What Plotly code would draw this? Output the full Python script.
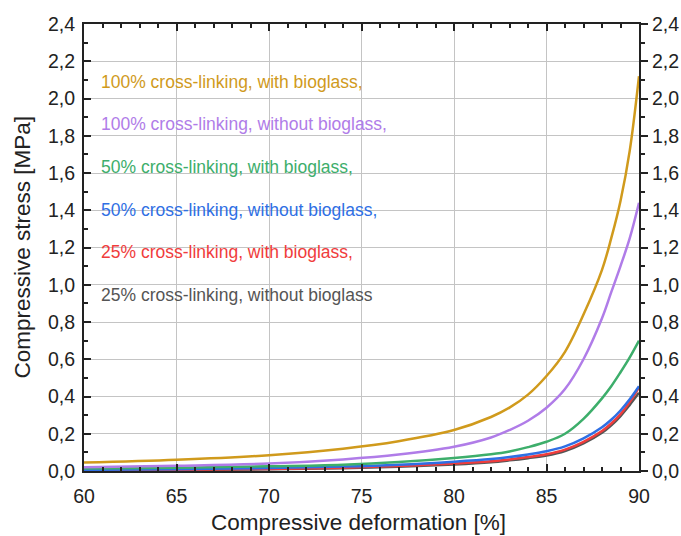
import plotly.graph_objects as go

deformation = [60, 65, 70, 74, 77, 80, 82, 83, 84, 85, 86, 87, 88, 88.5, 89, 89.5, 90]

stress_100_with = [0.045, 0.06, 0.085, 0.12, 0.16, 0.22, 0.29, 0.34, 0.41, 0.51, 0.64, 0.84, 1.08, 1.25, 1.45, 1.72, 2.12]
stress_100_without = [0.02, 0.028, 0.04, 0.062, 0.088, 0.13, 0.18, 0.22, 0.27, 0.34, 0.44, 0.60, 0.82, 0.96, 1.10, 1.25, 1.44]
stress_50_with = [0.013, 0.018, 0.025, 0.034, 0.048, 0.07, 0.09, 0.105, 0.128, 0.157, 0.20, 0.28, 0.39, 0.455, 0.53, 0.61, 0.70]
stress_50_without = [0.006, 0.01, 0.016, 0.024, 0.034, 0.05, 0.064, 0.075, 0.089, 0.106, 0.132, 0.175, 0.235, 0.275, 0.325, 0.385, 0.455]
stress_25_with = [0.004, 0.007, 0.011, 0.018, 0.027, 0.04, 0.052, 0.062, 0.075, 0.09, 0.115, 0.157, 0.215, 0.255, 0.305, 0.37, 0.45]
stress_25_without = [0.002, 0.005, 0.009, 0.015, 0.023, 0.035, 0.047, 0.057, 0.069, 0.083, 0.107, 0.148, 0.205, 0.245, 0.295, 0.355, 0.42]

labels = [
    "100% cross-linking, with bioglass,",
    "100% cross-linking, without bioglass,",
    "50% cross-linking, with bioglass,",
    "50% cross-linking, without bioglass,",
    "25% cross-linking, with bioglass,",
    "25% cross-linking, without bioglass",
]
label_y = [2.087, 1.863, 1.631, 1.401, 1.174, 0.945]

series = [stress_100_with, stress_100_without, stress_50_with,
          stress_50_without, stress_25_with, stress_25_without]
colors = ["#D09A1C", "#B07CE8", "#3DAE6B", "#2F6FE4", "#F03C3C", "#555555"]

fig = go.Figure()
for i in reversed(range(len(series))):
    fig.add_trace(go.Scatter(x=deformation, y=series[i], mode="lines",
                             line=dict(color=colors[i], width=2.5, shape="spline", smoothing=1.0),
                             name=labels[i], showlegend=False))

fig.add_trace(go.Scatter(x=[60], y=[0], yaxis="y2", mode="markers",
                         marker=dict(opacity=0), showlegend=False, hoverinfo="skip"))

for lab, ly, c in zip(labels, label_y, colors):
    fig.add_annotation(x=60.8, y=ly, text=lab, showarrow=False, xanchor="left",
                       yanchor="middle", font=dict(color=c, size=17.5, family="Arial"))

fig.add_annotation(x=-0.1117, y=0.5, xref="paper", yref="paper", text="Compressive stress [MPa]",
                   textangle=-90, showarrow=False, xanchor="center", yanchor="middle",
                   font=dict(size=22.5, family="Arial", color="#222"))
fig.add_annotation(x=0.494, y=-0.116, xref="paper", yref="paper", text="Compressive deformation [%]",
                   showarrow=False, xanchor="center", yanchor="middle",
                   font=dict(size=22.5, family="Arial", color="#222"))

tick_font = dict(size=19.5, family="Arial", color="#222")
fig.update_layout(
    width=681, height=536,
    margin=dict(l=84, r=42, t=24, b=65),
    plot_bgcolor="white", paper_bgcolor="white",
    separators=", ",
    font=dict(family="Arial", color="#222"),
    xaxis=dict(range=[60, 90], dtick=5, tick0=60, showgrid=True, gridcolor="#c4c4c4",
               gridwidth=1, showline=True, linecolor="#222", linewidth=2,
               mirror="ticks", ticks="inside", ticklen=7, tickwidth=1.5, tickcolor="#222",
               minor=dict(dtick=1, ticks="inside", ticklen=4, tickcolor="#222", showgrid=False),
               tickfont=tick_font, zeroline=False, automargin=False, ticklabelstandoff=7),
    yaxis=dict(range=[0, 2.4], dtick=0.2, tick0=0, tickformat=".1f", showgrid=True,
               gridcolor="#c4c4c4", gridwidth=1, showline=True, linecolor="#222", linewidth=2,
               mirror=True, ticks="inside", ticklen=7, tickwidth=1.5, tickcolor="#222",
               minor=dict(dtick=0.1, ticks="inside", ticklen=4, tickcolor="#222", showgrid=False),
               tickfont=tick_font, zeroline=False, automargin=False, ticklabelstandoff=3),
    yaxis2=dict(range=[0, 2.4], dtick=0.2, tick0=0, tickformat=".1f", overlaying="y",
                side="right", showgrid=False, showline=True, linecolor="#222", linewidth=2,
                ticks="outside", ticklen=7, tickwidth=1.5, tickcolor="#222",
                minor=dict(dtick=0.1, ticks="outside", ticklen=4, tickcolor="#222"),
                tickfont=tick_font, zeroline=False, automargin=False, ticklabelstandoff=0),
)

fig.write_html("out.html", config={"displayModeBar": False},
               post_script="document.body.style.margin='0px';document.body.style.overflow='hidden';")
